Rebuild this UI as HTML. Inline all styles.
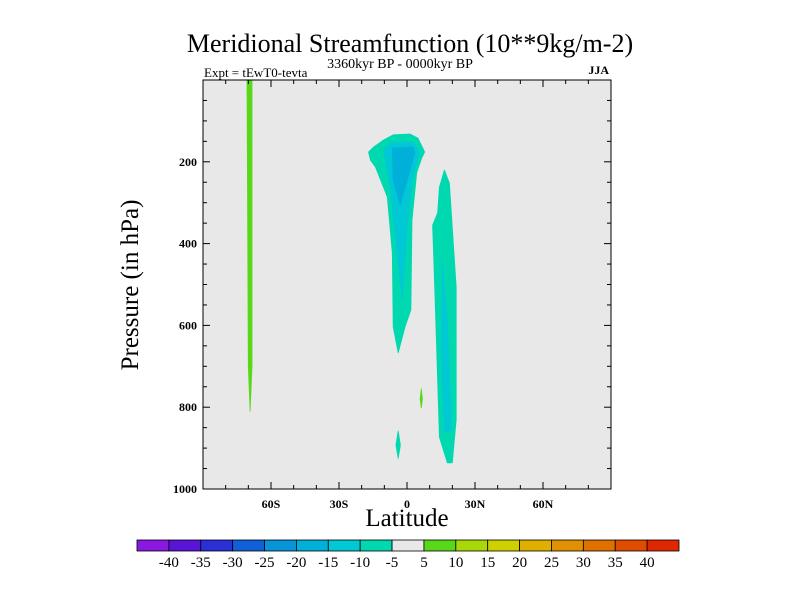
<!DOCTYPE html>
<html><head><meta charset="utf-8"><style>
body{margin:0;background:#fff;}
svg text{font-family:"Liberation Serif",serif;}
</style></head><body>
<svg id="chart" width="800" height="600" viewBox="0 0 800 600" xmlns="http://www.w3.org/2000/svg">
<text x="410" y="52" font-size="26" text-anchor="middle">Meridional Streamfunction (10**9kg/m-2)</text>
<text x="400" y="68" font-size="14" text-anchor="middle">3360kyr BP - 0000kyr BP</text>
<text x="204" y="77" font-size="13">Expt = tEwT0-tevta</text>
<text x="609" y="74" font-size="12" font-weight="bold" text-anchor="end">JJA</text>
<rect x="203" y="80" width="408" height="409" fill="#e8e8e8"/>
<g id="shapes"></g>
<g id="axes"></g>
<rect x="203" y="80" width="408" height="409" fill="none" stroke="#000" stroke-width="1"/>
<text transform="translate(138,285) rotate(-90)" font-size="25" text-anchor="middle">Pressure (in hPa)</text>
<text x="407" y="526" font-size="25" text-anchor="middle">Latitude</text>
<g id="cbar"></g>
</svg>
<script>
const latTicks=[-60,-30,0,30,60];
const latLabels=["60S","30S","0","30N","60N"];
const pTicks=[200,400,600,800,1000];
const cbLabels=["-40","-35","-30","-25","-20","-15","-10","-5","5","10","15","20","25","30","35","40"];
const cbColors=["#8a18e0","#5a14d8","#2a30d8","#1060d8","#0894d8","#00b0d8","#00c8d4","#00d8b0","#e8e8e8","#58d818","#a8d808","#d0d000","#e0b000","#e09000","#e07000","#e04c00","#e02800"];
// contour polygons: [lat, pressure]
const greenStrip=[[-70.6,0],[-68.4,0],[-68.4,700],[-69.2,810],[-70.0,700]];
const leftOuter=[[-17,176],[-14.8,164],[-10.4,147],[-6.1,134],[1.3,132],[4.8,142],[7.8,176],[6.5,191],[4.3,227],[2.2,342],[1.7,562],[-0.9,604],[-3.9,667],[-6.1,604],[-6.5,423],[-8.7,286],[-13.9,213],[-16.1,196]];
const leftMid=[[-10.4,171],[-6.5,152],[2.6,152],[5.7,176],[2.6,237],[0.4,342],[-2.2,538],[-4.3,423],[-7.4,262]];
const leftCore=[[-6.5,166],[2.6,164],[3.5,178],[-3,306],[-6.1,245]];
const rightOuter=[[16.5,220],[18.7,252],[21.7,506],[21.7,831],[20,936],[17.8,936],[14.3,873],[12.2,506],[11.3,355],[13.5,325],[14.3,262]];
const rightMid=[[15.7,447],[17.8,587],[19.6,856],[16.5,861],[15.2,667]];
const smallGreen=[[6.3,755],[6.8,780],[6.3,802],[5.8,780]];
const smallTeal=[[-3.9,858],[-2.9,893],[-3.9,925],[-4.9,893]];

const X0=203,X1=611,Y0=80,Y1=489;
const xs=l=>X0+(l+90)/180*(X1-X0);
const ys=p=>Y0+p/1000*(Y1-Y0);
const NS="http://www.w3.org/2000/svg";
function mk(t,a,parent){const e=document.createElementNS(NS,t);for(const k in a)e.setAttribute(k,a[k]);parent.appendChild(e);return e;}
const sh=document.getElementById('shapes');
const polys=[[greenStrip,"#58d818","green-strip-70s"],[leftOuter,"#00d8b0","cell-left-outer"],[leftMid,"#00c8d4","cell-left-mid"],[leftCore,"#00b0d8","cell-left-core"],[rightOuter,"#00d8b0","cell-right-outer"],[rightMid,"#00c8d4","cell-right-mid"],[smallGreen,"#58d818","small-green-blob"],[smallTeal,"#00d8b0","small-teal-blob"]];
polys.forEach(([pts,c,n])=>{
 const e=mk('polygon',{points:pts.map(q=>xs(q[0]).toFixed(1)+','+ys(q[1]).toFixed(1)).join(' '),fill:c,stroke:c,'stroke-width':0.8,'stroke-linejoin':'round'},sh);
 
 
});
const ax=document.getElementById('axes');
for(let l=-80;l<=80;l+=10){
 const major=latTicks.includes(l);const len=major?7:4;const x=xs(l);
 mk('line',{x1:x,x2:x,y1:Y1,y2:Y1-len,stroke:'#000'},ax);
 mk('line',{x1:x,x2:x,y1:Y0,y2:Y0+len,stroke:'#000'},ax);
}
latTicks.forEach((l,i)=>{const t=mk('text',{x:xs(l),y:Y1+19,'font-size':12,'font-weight':'bold','text-anchor':'middle'},ax);t.textContent=latLabels[i];
 
 });
for(let p=50;p<=1000;p+=50){
 const major=pTicks.includes(p);const len=major?7:4;const y=ys(p);
 mk('line',{x1:X0,x2:X0+len,y1:y,y2:y,stroke:'#000'},ax);
 mk('line',{x1:X1,x2:X1-len,y1:y,y2:y,stroke:'#000'},ax);
}
pTicks.forEach(p=>{const t=mk('text',{x:X0-6,y:ys(p)+4,'font-size':12,'font-weight':'bold','text-anchor':'end'},ax);t.textContent=p;
 
 });
const cb=document.getElementById('cbar');
const CX0=137,CX1=679,bw=(CX1-CX0)/cbColors.length;
cbColors.forEach((c,i)=>{const r=mk('rect',{x:CX0+i*bw,y:540,width:bw,height:11,fill:c,stroke:'#000','stroke-width':0.8},cb);
 
 });
cbLabels.forEach((s,i)=>{const t=mk('text',{x:CX0+(i+1)*bw,y:567,'font-size':15,'text-anchor':'middle'},cb);t.textContent=s;
 
 });
</script>
</body></html>
